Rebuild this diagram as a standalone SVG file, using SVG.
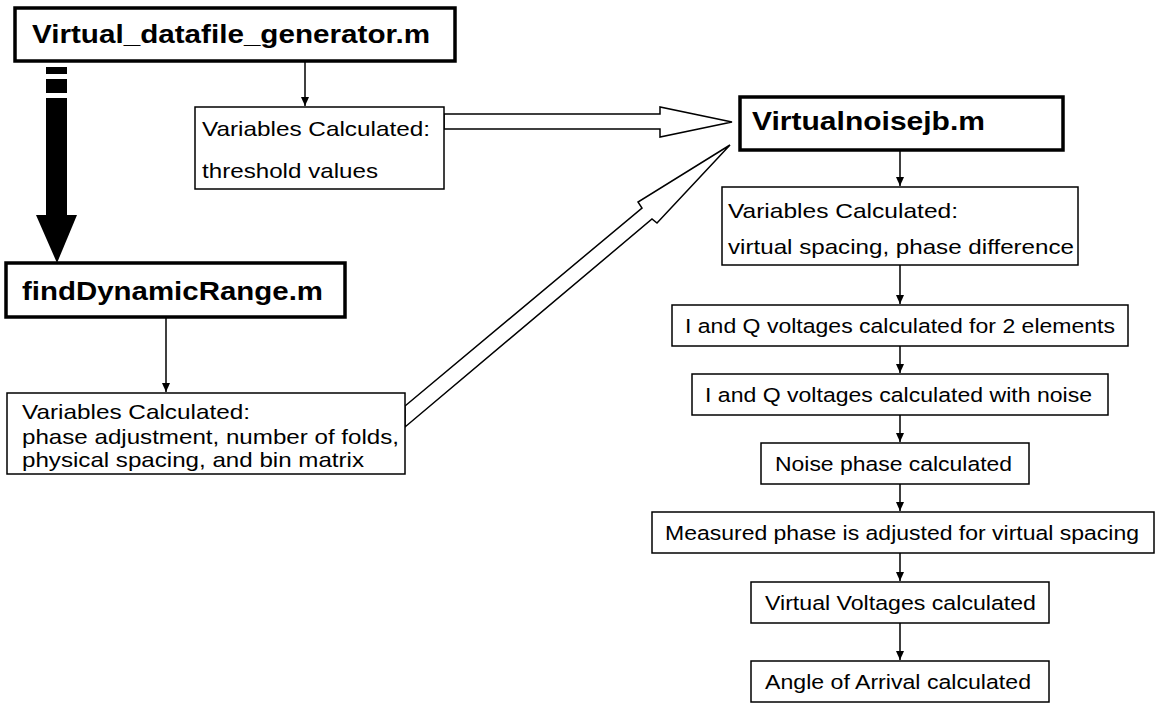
<svg xmlns="http://www.w3.org/2000/svg" width="1156" height="703" viewBox="0 0 1156 703">
<style>
.bx{fill:#fff;stroke:#000;stroke-width:1.5}
.bb{fill:#fff;stroke:#000;stroke-width:3.5}
.t{font-family:"Liberation Sans",Arial,sans-serif;font-size:21px;fill:#000}
.tc{font-family:"Liberation Sans",Arial,sans-serif;font-size:20.5px;fill:#000}
.tb{font-family:"Liberation Sans",Arial,sans-serif;font-size:26px;font-weight:bold;fill:#000}
.ln{stroke:#000;stroke-width:1.5;fill:none}
.oa{fill:#fff;stroke:#000;stroke-width:1.5;stroke-linejoin:miter}
</style>
<defs>
<marker id="ah" markerWidth="10" markerHeight="10" refX="9" refY="5" orient="auto" markerUnits="userSpaceOnUse">
<path d="M0,1 L9,5 L0,9 Z" fill="#000"/>
</marker>
</defs>
<g id="connectors">
<line class="ln" x1="305" y1="61" x2="305" y2="106" marker-end="url(#ah)"/>
<line class="ln" x1="166" y1="317" x2="166" y2="392" marker-end="url(#ah)"/>
<line class="ln" x1="900" y1="150" x2="900" y2="186" marker-end="url(#ah)"/>
<line class="ln" x1="900" y1="265" x2="900" y2="304" marker-end="url(#ah)"/>
<line class="ln" x1="900" y1="346" x2="900" y2="373" marker-end="url(#ah)"/>
<line class="ln" x1="900" y1="415" x2="900" y2="442" marker-end="url(#ah)"/>
<line class="ln" x1="900" y1="484" x2="900" y2="511" marker-end="url(#ah)"/>
<line class="ln" x1="900" y1="553" x2="900" y2="581" marker-end="url(#ah)"/>
<line class="ln" x1="900" y1="623" x2="900" y2="660" marker-end="url(#ah)"/>
<polygon class="oa" points="444,114 660,114 660,107 732,122 660,137 660,129 444,129"/>
<polygon class="oa" points="405,406 642,208 638,202 730,145 657,223 652,219 405,427"/>
<g id="bigarrow" fill="#000">
<rect x="46" y="67" width="21" height="7"/>
<rect x="46" y="79" width="21" height="14"/>
<rect x="46" y="98" width="21" height="118"/>
<polygon points="36,215 77,215 57,263"/>
</g>
</g>
<g id="n_generator">
<rect class="bb" x="15" y="8" width="440" height="53"/>
<text class="tb" x="32" y="43" textLength="398" lengthAdjust="spacingAndGlyphs">Virtual_datafile_generator.m</text>
</g>
<g id="n_vars_top">
<rect class="bx" x="195" y="107" width="249" height="82"/>
<text class="t" x="202" y="136" textLength="228" lengthAdjust="spacingAndGlyphs">Variables Calculated:</text>
<text class="t" x="202" y="178" textLength="176" lengthAdjust="spacingAndGlyphs">threshold values</text>
</g>
<g id="n_finddr">
<rect class="bb" x="6" y="263" width="339" height="54"/>
<text class="tb" x="22" y="300" textLength="301" lengthAdjust="spacingAndGlyphs">findDynamicRange.m</text>
</g>
<g id="n_vars_left">
<rect class="bx" x="7" y="393" width="398" height="81"/>
<text class="t" x="22" y="419" textLength="228" lengthAdjust="spacingAndGlyphs">Variables Calculated:</text>
<text class="t" x="22" y="444" textLength="377" lengthAdjust="spacingAndGlyphs">phase adjustment, number of folds,</text>
<text class="t" x="22" y="467" textLength="342" lengthAdjust="spacingAndGlyphs">physical spacing, and bin matrix</text>
</g>
<g id="n_vnoise">
<rect class="bb" x="740" y="97" width="323" height="53"/>
<text class="tb" x="752" y="130" textLength="233" lengthAdjust="spacingAndGlyphs">Virtualnoisejb.m</text>
</g>
<g id="n_vars_right">
<rect class="bx" x="722" y="187" width="356" height="78"/>
<text class="t" x="728" y="218" textLength="230" lengthAdjust="spacingAndGlyphs">Variables Calculated:</text>
<text class="t" x="728" y="254" textLength="346" lengthAdjust="spacingAndGlyphs">virtual spacing, phase difference</text>
</g>
<g id="n_iq2">
<rect class="bx" x="672" y="305" width="456" height="41"/>
<text class="tc" x="685" y="333" textLength="430" lengthAdjust="spacingAndGlyphs">I and Q voltages calculated for 2 elements</text>
</g>
<g id="n_iqnoise">
<rect class="bx" x="692" y="374" width="416" height="41"/>
<text class="tc" x="705" y="402" textLength="387" lengthAdjust="spacingAndGlyphs">I and Q voltages calculated with noise</text>
</g>
<g id="n_noisephase">
<rect class="bx" x="761" y="443" width="268" height="41"/>
<text class="tc" x="775" y="471" textLength="237" lengthAdjust="spacingAndGlyphs">Noise phase calculated</text>
</g>
<g id="n_measured">
<rect class="bx" x="652" y="512" width="502" height="41"/>
<text class="tc" x="665" y="540" textLength="474" lengthAdjust="spacingAndGlyphs">Measured phase is adjusted for virtual spacing</text>
</g>
<g id="n_virtvolt">
<rect class="bx" x="751" y="582" width="298" height="41"/>
<text class="tc" x="765" y="610" textLength="271" lengthAdjust="spacingAndGlyphs">Virtual Voltages calculated</text>
</g>
<g id="n_aoa">
<rect class="bx" x="751" y="661" width="298" height="41"/>
<text class="tc" x="765" y="689" textLength="266" lengthAdjust="spacingAndGlyphs">Angle of Arrival calculated</text>
</g>
</svg>
